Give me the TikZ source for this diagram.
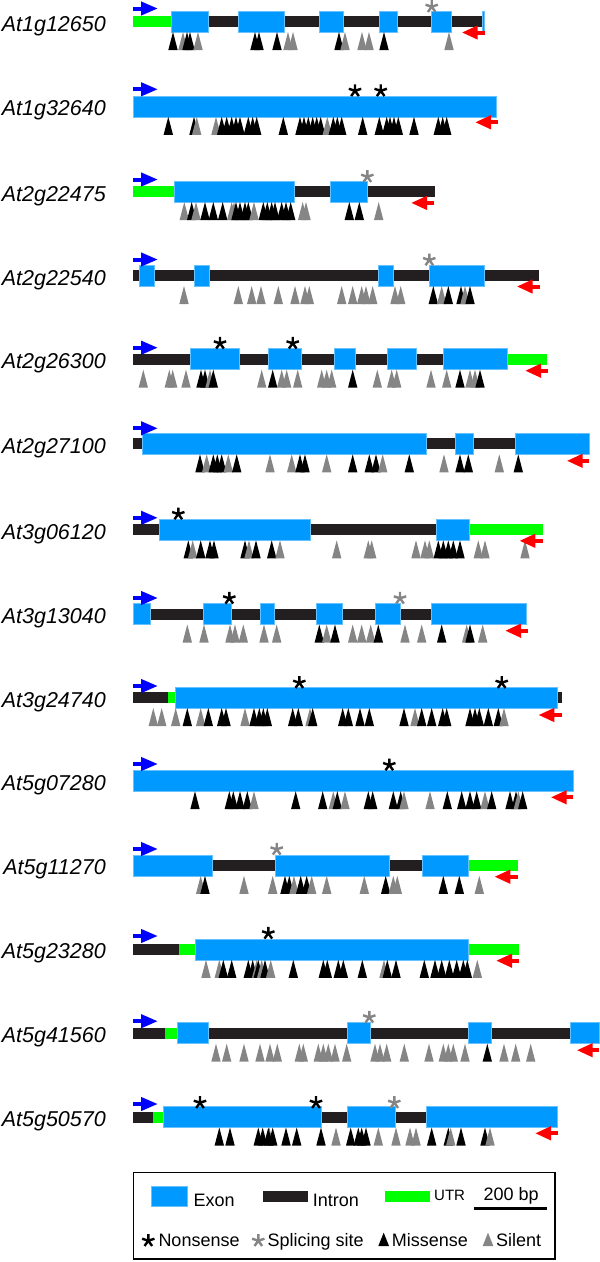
\documentclass[tikz,border=0pt]{standalone}
\usepackage{fontspec}
\setmainfont{Liberation Sans}
\usepackage{tikz}
\usetikzlibrary{arrows.meta}

\definecolor{exonblue}{HTML}{0099FF}
\definecolor{introndark}{HTML}{231F20}
\definecolor{utrgreen}{HTML}{00FF00}
\definecolor{mis}{HTML}{000000}
\definecolor{sil}{HTML}{858585}
\definecolor{primerblue}{HTML}{0000FF}
\definecolor{primerred}{HTML}{FF0000}

\begin{document}
\begin{tikzpicture}[
        x=1pt, y=-1pt,
        exon/.style={fill=exonblue, draw=exonblue!60!white, line width=0.5pt},
        intron/.style={fill=introndark},
        utr/.style={fill=utrgreen},
        fwd/.style={draw=primerblue, line width=4pt, -{Triangle[length=17pt,width=13pt]}},
        rev/.style={draw=primerred, line width=4pt, -{Triangle[length=16pt,width=13pt]}},
        genelabel/.style={anchor=base east, inner sep=0pt, font=\fontsize{21.5}{24}\selectfont\itshape},
        legtext/.style={anchor=base west, inner sep=0pt, font=\fontsize{18}{20}\selectfont},
        nons/.pic={\draw[mis, line width=2.4pt] (0,0) -- (270:6.5) (0,0) -- (342:6.5) (0,0) -- (198:6.5) (0,0) -- (54:6.5) (0,0) -- (126:6.5);},
        splice/.pic={\draw[sil, line width=2.4pt] (0,0) -- (270:6.5) (0,0) -- (342:6.5) (0,0) -- (198:6.5) (0,0) -- (54:6.5) (0,0) -- (126:6.5);}
    ]
    \useasboundingbox (0,0) rectangle (600,1262);

    % At1g12650
    \begin{scope}[shift={(0,21.5)}]
    \node[genelabel] (at1g12650) at (106,9.5) {At1g12650};
    \fill[utr] (133.3,-5.5) rectangle (171,5.5);
    \fill[intron] (171,-5.5) rectangle (482,5.5);
    \foreach \a/\b in {171/208.7,238.3/284.3,319.7/343.7,379.3/397.7,431.7/451.3,482/484}
        \filldraw[exon] (\a,-10.5) rectangle (\b,10.5);
    \pic at (431.7,-14.8) {splice};
    \foreach \x/\c in {173/mis,183/sil,187/mis,190/mis,198/sil,255/mis,259/mis,277/mis,288/sil,293/sil,339/mis,345/sil,362/sil,369/sil,384/mis,449/sil}
        \fill[\c] (\x-4.7,28.5) -- (\x,10.5) -- (\x+4.7,28.5) -- cycle;
    \draw[fwd] (133.3,-13) -- (158,-13);
    \draw[rev] (485,11) -- (461.7,11);
    \end{scope}

    % At1g32640
    \begin{scope}[shift={(0,106.3)}]
    \node[genelabel] (at1g32640) at (106,9.5) {At1g32640};
    \filldraw[exon] (133.3,-10.5) rectangle (496.7,10.5);
    \pic at (355,-15.5) {nons};
    \pic at (380.7,-15.5) {nons};
    \foreach \x/\c in {168.3/mis,194/mis,196.7/sil,216/sil,221.7/mis,226.7/mis,231.7/mis,236/mis,240/mis,248.3/mis,252.7/mis,256.7/mis,283.3/mis,300/mis,304/mis,308.3/mis,312.7/mis,316.7/mis,320.7/mis,327.3/sil,333.3/mis,337.3/mis,341.7/mis,362.7/mis,379.3/mis,386.7/mis,390/mis,394/mis,398.3/mis,414/mis,438.3/mis,442.7/mis,446.7/mis}
        \fill[\c] (\x-4.7,28.5) -- (\x,10.5) -- (\x+4.7,28.5) -- cycle;
    \draw[fwd] (133.3,-17) -- (158,-17);
    \draw[rev] (498,16) -- (475,16);
    \end{scope}

    % At2g22475
    \begin{scope}[shift={(0,191.5)}]
    \node[genelabel] (at2g22475) at (106,9.5) {At2g22475};
    \fill[utr] (133.3,-5.5) rectangle (174,5.5);
    \fill[intron] (174,-5.5) rectangle (435.3,5.5);
    \foreach \a/\b in {174/294.3,330.3/367}
        \filldraw[exon] (\a,-10.5) rectangle (\b,10.5);
    \pic at (367.3,-14.8) {splice};
    \foreach \x/\c in {184.3/sil,191.7/mis,196/sil,205/mis,213.3/mis,222.7/mis,231.7/sil,234/sil,236/mis,240/mis,245/mis,248.3/mis,254/sil,263.3/mis,267.3/mis,271.7/mis,275/mis,281.7/mis,286/mis,290.7/mis,302.7/sil,306/sil,349.3/mis,359.3/mis,378.7/sil}
        \fill[\c] (\x-4.7,28.5) -- (\x,10.5) -- (\x+4.7,28.5) -- cycle;
    \draw[fwd] (133.3,-12) -- (158,-12);
    \draw[rev] (434.3,11.4) -- (411,11.4);
    \end{scope}

    % At2g22540
    \begin{scope}[shift={(0,275.5)}]
    \node[genelabel] (at2g22540) at (106,9.5) {At2g22540};
    \fill[intron] (133.3,-5.5) rectangle (539.3,5.5);
    \foreach \a/\b in {139/154,194.3/209.3,378.3/393.3,429.3/484}
        \filldraw[exon] (\a,-10.5) rectangle (\b,10.5);
    \pic at (429.3,-15.5) {splice};
    \foreach \x/\c in {184/sil,238.3/sil,251.7/sil,261/sil,278.3/sil,295/sil,305/sil,309.3/sil,341.7/sil,352.7/sil,361.7/sil,366/sil,372.7/sil,395/sil,400.7/sil,433.3/mis,441.7/sil,448.3/mis,461/mis,465/sil,470/mis}
        \fill[\c] (\x-4.7,28.5) -- (\x,10.5) -- (\x+4.7,28.5) -- cycle;
    \draw[fwd] (133.3,-16) -- (158,-16);
    \draw[rev] (540,11) -- (516.7,11);
    \end{scope}

    % At2g26300
    \begin{scope}[shift={(0,359.2)}]
    \node[genelabel] (at2g26300) at (106,9.5) {At2g26300};
    \fill[intron] (133.3,-5.5) rectangle (507,5.5);
    \fill[utr] (507,-5.5) rectangle (547.3,5.5);
    \foreach \a/\b in {190/239,268/301.7,334/355.7,387/416,443.7/507}
        \filldraw[exon] (\a,-10.5) rectangle (\b,10.5);
    \pic at (220,-15.9) {nons};
    \pic at (292.7,-15.9) {nons};
    \foreach \x/\c in {143.3/sil,169.3/sil,172.7/sil,186/sil,201/mis,205/mis,210/sil,213.3/mis,261.7/sil,272.7/mis,281.7/sil,286.7/sil,297.7/sil,321.7/sil,326.7/sil,331.7/sil,352.7/mis,377.3/sil,391.7/sil,396.7/sil,431/sil,446.7/sil,460/mis,470/sil,475/sil,480/mis}
        \fill[\c] (\x-4.7,28.5) -- (\x,10.5) -- (\x+4.7,28.5) -- cycle;
    \draw[fwd] (133.3,-11.5) -- (158,-11.5);
    \draw[rev] (548.3,11.5) -- (525,11.5);
    \end{scope}

    % At2g27100
    \begin{scope}[shift={(0,443.8)}]
    \node[genelabel] (at2g27100) at (106,9.5) {At2g27100};
    \fill[intron] (133.3,-5.5) rectangle (589.3,5.5);
    \foreach \a/\b in {142.7/426,455/473.3,515/589.3}
        \filldraw[exon] (\a,-10.5) rectangle (\b,10.5);
    \foreach \x/\c in {200/mis,206.7/sil,213.3/mis,217.3/mis,221.7/mis,228.3/sil,236.7/mis,270/sil,291.7/sil,300/mis,305/mis,326.7/sil,352.7/mis,369.3/mis,376/mis,382.7/sil,409.3/mis,444/sil,460/mis,468.3/mis,499.3/sil,518.3/mis}
        \fill[\c] (\x-4.7,28.5) -- (\x,10.5) -- (\x+4.7,28.5) -- cycle;
    \draw[fwd] (133.3,-15.5) -- (158,-15.5);
    \draw[rev] (589.3,17) -- (566.7,17);
    \end{scope}

    % At3g06120
    \begin{scope}[shift={(0,529.8)}]
    \node[genelabel] (at3g06120) at (106,9.5) {At3g06120};
    \fill[intron] (133.3,-5.5) rectangle (469.3,5.5);
    \fill[utr] (469.3,-5.5) rectangle (543.3,5.5);
    \foreach \a/\b in {159.3/310,436/469.3}
        \filldraw[exon] (\a,-10.5) rectangle (\b,10.5);
    \pic at (178.3,-15.8) {nons};
    \foreach \x/\c in {188.3/mis,192.7/sil,200.7/mis,210/mis,214/mis,245/mis,249/sil,256/mis,271.7/mis,280/sil,336.7/sil,368.3/sil,371.7/sil,416/sil,425/sil,429.3/sil,438.3/mis,443.3/mis,448.3/mis,453.3/mis,460/mis,478.3/sil,485/sil,525/sil}
        \fill[\c] (\x-4.7,28.5) -- (\x,10.5) -- (\x+4.7,28.5) -- cycle;
    \draw[fwd] (133.3,-12) -- (158,-12);
    \draw[rev] (543.3,11) -- (519.3,11);
    \end{scope}

    % At3g13040
    \begin{scope}[shift={(0,614)}]
    \node[genelabel] (at3g13040) at (106,9.5) {At3g13040};
    \fill[intron] (133.3,-5.5) rectangle (526.7,5.5);
    \foreach \a/\b in {133.3/150.7,203.3/231,260.3/274.7,316/342.7,375/400,431/526.7}
        \filldraw[exon] (\a,-10.5) rectangle (\b,10.5);
    \pic at (229.3,-15.7) {nons};
    \pic at (400,-15.7) {splice};
    \foreach \x/\c in {187.3/sil,204/sil,230/sil,235/sil,243.3/sil,264/sil,276.7/sil,319.3/mis,326.7/sil,335/mis,352.7/sil,361.7/sil,370.7/sil,378.3/mis,405/sil,421.7/sil,441.7/mis,466.7/sil,470/mis,482.7/sil}
        \fill[\c] (\x-4.7,28.5) -- (\x,10.5) -- (\x+4.7,28.5) -- cycle;
    \draw[fwd] (133.3,-16) -- (158,-16);
    \draw[rev] (528.3,16.7) -- (505,16.7);
    \end{scope}

    % At3g24740
    \begin{scope}[shift={(0,697.5)}]
    \node[genelabel] (at3g24740) at (106,9.5) {At3g24740};
    \fill[intron] (133.3,-5.5) rectangle (561.7,5.5);
    \fill[utr] (168.3,-5.5) rectangle (175.7,5.5);
    \filldraw[exon] (175.7,-10.5) rectangle (557.7,10.5);
    \pic at (299.3,-14.8) {nons};
    \pic at (501.7,-14.8) {nons};
    \foreach \x/\c in {153.3/sil,161.7/sil,175.7/sil,187.3/mis,200.7/sil,208.3/mis,221.7/mis,226/mis,245/sil,254/mis,259.3/mis,263.3/mis,267.3/mis,292.7/mis,298.3/mis,310/sil,312.7/mis,342.7/mis,348.3/mis,360/mis,369.3/mis,404/mis,415/sil,421.7/mis,431.7/mis,442.7/mis,446.7/mis,470/mis,475/mis,479.3/mis,488.3/mis,498.3/mis,504/sil}
        \fill[\c] (\x-4.7,28.5) -- (\x,10.5) -- (\x+4.7,28.5) -- cycle;
    \draw[fwd] (133.3,-11.5) -- (158,-11.5);
    \draw[rev] (561.7,17.5) -- (538.3,17.5);
    \end{scope}

    % At5g07280
    \begin{scope}[shift={(0,780.7)}]
    \node[genelabel] (at5g07280) at (106,9.5) {At5g07280};
    \filldraw[exon] (133.3,-10.5) rectangle (573.3,10.5);
    \pic at (389.3,-15.7) {nons};
    \foreach \x/\c in {195/mis,229.3/mis,233.3/mis,240/mis,247.3/mis,254/sil,295.7/mis,322.7/mis,333.3/sil,337.3/mis,345/sil,368.3/mis,372.7/mis,393.3/mis,400.7/mis,404/sil,430/sil,447.3/mis,461.7/mis,470/mis,476.7/mis,485/sil,491.7/mis,510/mis,516/mis,518.3/sil,522.7/mis}
        \fill[\c] (\x-4.7,28.5) -- (\x,10.5) -- (\x+4.7,28.5) -- cycle;
    \draw[fwd] (133.3,-16.7) -- (158,-16.7);
    \draw[rev] (573.3,16.6) -- (550.7,16.6);
    \end{scope}

    % At5g11270
    \begin{scope}[shift={(0,865.3)}]
    \node[genelabel] (at5g11270) at (106,9.5) {At5g11270};
    \fill[intron] (212.3,-5.5) rectangle (422,5.5);
    \fill[utr] (468.3,-5.5) rectangle (517.7,5.5);
    \foreach \a/\b in {133.3/212.3,275.7/389,422/468.3}
        \filldraw[exon] (\a,-10.5) rectangle (\b,10.5);
    \pic at (276.7,-16) {splice};
    \foreach \x/\c in {200.7/sil,205/mis,244/sil,272.7/sil,285/mis,289.3/mis,294/sil,300.7/mis,306.7/mis,311.7/sil,326.7/sil,364.3/sil,385.7/mis,393.3/sil,397.3/sil,443.3/mis,459.3/mis,479.3/sil}
        \fill[\c] (\x-4.7,28.5) -- (\x,10.5) -- (\x+4.7,28.5) -- cycle;
    \draw[fwd] (133.3,-16.3) -- (158,-16.3);
    \draw[rev] (517.7,11.4) -- (494.3,11.4);
    \end{scope}

    % At5g23280
    \begin{scope}[shift={(0,949.3)}]
    \node[genelabel] (at5g23280) at (106,9.5) {At5g23280};
    \fill[intron] (133.3,-5.5) rectangle (179,5.5);
    \fill[utr] (179,-5.5) rectangle (195.7,5.5);
    \fill[utr] (468.3,-5.5) rectangle (519,5.5);
    \filldraw[exon] (195.7,-10.5) rectangle (468.3,10.5);
    \pic at (268.3,-16) {nons};
    \foreach \x/\c in {206/sil,219.3/sil,223.3/mis,231.7/mis,248.3/mis,252.7/mis,256.7/sil,258.3/mis,261.7/sil,265/mis,270.7/sil,293.3/mis,323.3/mis,327.3/mis,338.3/mis,343.3/mis,362.3/mis,384/sil,387.3/mis,396/mis,424.3/mis,435/mis,441.7/mis,449.3/mis,456.7/mis,463.3/mis,467.3/mis,477.3/sil}
        \fill[\c] (\x-4.7,28.5) -- (\x,10.5) -- (\x+4.7,28.5) -- cycle;
    \draw[fwd] (133.3,-13.3) -- (158,-13.3);
    \draw[rev] (519,11.4) -- (496,11.4);
    \end{scope}

    % At5g41560
    \begin{scope}[shift={(0,1033.2)}]
    \node[genelabel] (at5g41560) at (106,9.5) {At5g41560};
    \fill[intron] (133.3,-5.5) rectangle (590,5.5);
    \fill[utr] (165,-5.5) rectangle (177.7,5.5);
    \foreach \a/\b in {177.7/208.3,347.3/370,468.3/491,570/599.3}
        \filldraw[exon] (\a,-10.5) rectangle (\b,10.5);
    \pic at (369.3,-15.9) {splice};
    \foreach \x/\c in {216/sil,226.7/sil,244/sil,260/sil,270/sil,277.3/sil,299.3/sil,303.3/sil,318.3/sil,323.3/sil,328.3/sil,335/sil,346.7/sil,375/sil,380/sil,386.7/sil,404.3/sil,429/sil,443.3/sil,448.3/sil,453.3/sil,465/sil,487.3/mis,504/sil,515.7/sil,530.7/sil}
        \fill[\c] (\x-4.7,28.5) -- (\x,10.5) -- (\x+4.7,28.5) -- cycle;
    \draw[fwd] (133.3,-12) -- (158,-12);
    \draw[rev] (599.3,17) -- (576.7,17);
    \end{scope}

    % At5g50570
    \begin{scope}[shift={(0,1117)}]
    \node[genelabel] (at5g50570) at (106,9.5) {At5g50570};
    \fill[intron] (133.3,-5.5) rectangle (557.3,5.5);
    \fill[utr] (152.7,-5.5) rectangle (163.3,5.5);
    \foreach \a/\b in {163.3/321.7,347.3/395,426/557.3}
        \filldraw[exon] (\a,-10.5) rectangle (\b,10.5);
    \pic at (200,-14.3) {nons};
    \pic at (316,-14.3) {nons};
    \pic at (394.3,-14.3) {splice};
    \foreach \x/\c in {219.3/mis,230/mis,258.3/mis,262.7/mis,269.3/sil,268.3/mis,272.7/mis,286/mis,296.7/mis,321/mis,336/sil,350.7/mis,358.3/mis,361.7/mis,366/mis,378.3/sil,396/sil,410/sil,416/sil,431.7/mis,448.3/mis,450.7/sil,461/mis,485/mis,490/sil}
        \fill[\c] (\x-4.7,28.5) -- (\x,10.5) -- (\x+4.7,28.5) -- cycle;
    \draw[fwd] (133.3,-13) -- (158,-13);
    \draw[rev] (558.3,16.3) -- (535,16.3);
    \end{scope}

    % legend
    \draw[line width=1.3pt] (133.3,1172.3) rectangle (555,1259);
    \filldraw[exon] (151.7,1186) rectangle (187.3,1206.7);
    \node[legtext] (exontxt) at (193.3,1206.7) {Exon};
    \fill[intron] (263.3,1190.7) rectangle (308.3,1201.7);
    \node[legtext] (introntxt) at (312.7,1206.7) {Intron};
    \fill[utr] (385,1190.7) rectangle (430,1201.7);
    \node[legtext, font=\fontsize{15}{17}\selectfont] (utrtxt) at (434,1200.7) {UTR};
    \node[legtext] (scaletxt) at (483.3,1200.7) {200 bp};
    \draw[line width=3pt] (474,1208.7) -- (546.7,1208.7);
    \pic at (148.3,1240.7) {nons};
    \node[legtext] (nonstxt) at (158.3,1246) {Nonsense};
    \pic at (258.3,1240.7) {splice};
    \node[legtext] (splicetxt) at (267.3,1246) {Splicing site};
    \fill[mis] (378.3,1246) -- (383.7,1232.7) -- (389,1246) -- cycle;
    \node[legtext] (mistxt) at (391.7,1246) {Missense};
    \fill[sil] (482.7,1246) -- (488,1232.7) -- (493.3,1246) -- cycle;
    \node[legtext] (siltxt) at (496,1246) {Silent};

\end{tikzpicture}
\end{document}
